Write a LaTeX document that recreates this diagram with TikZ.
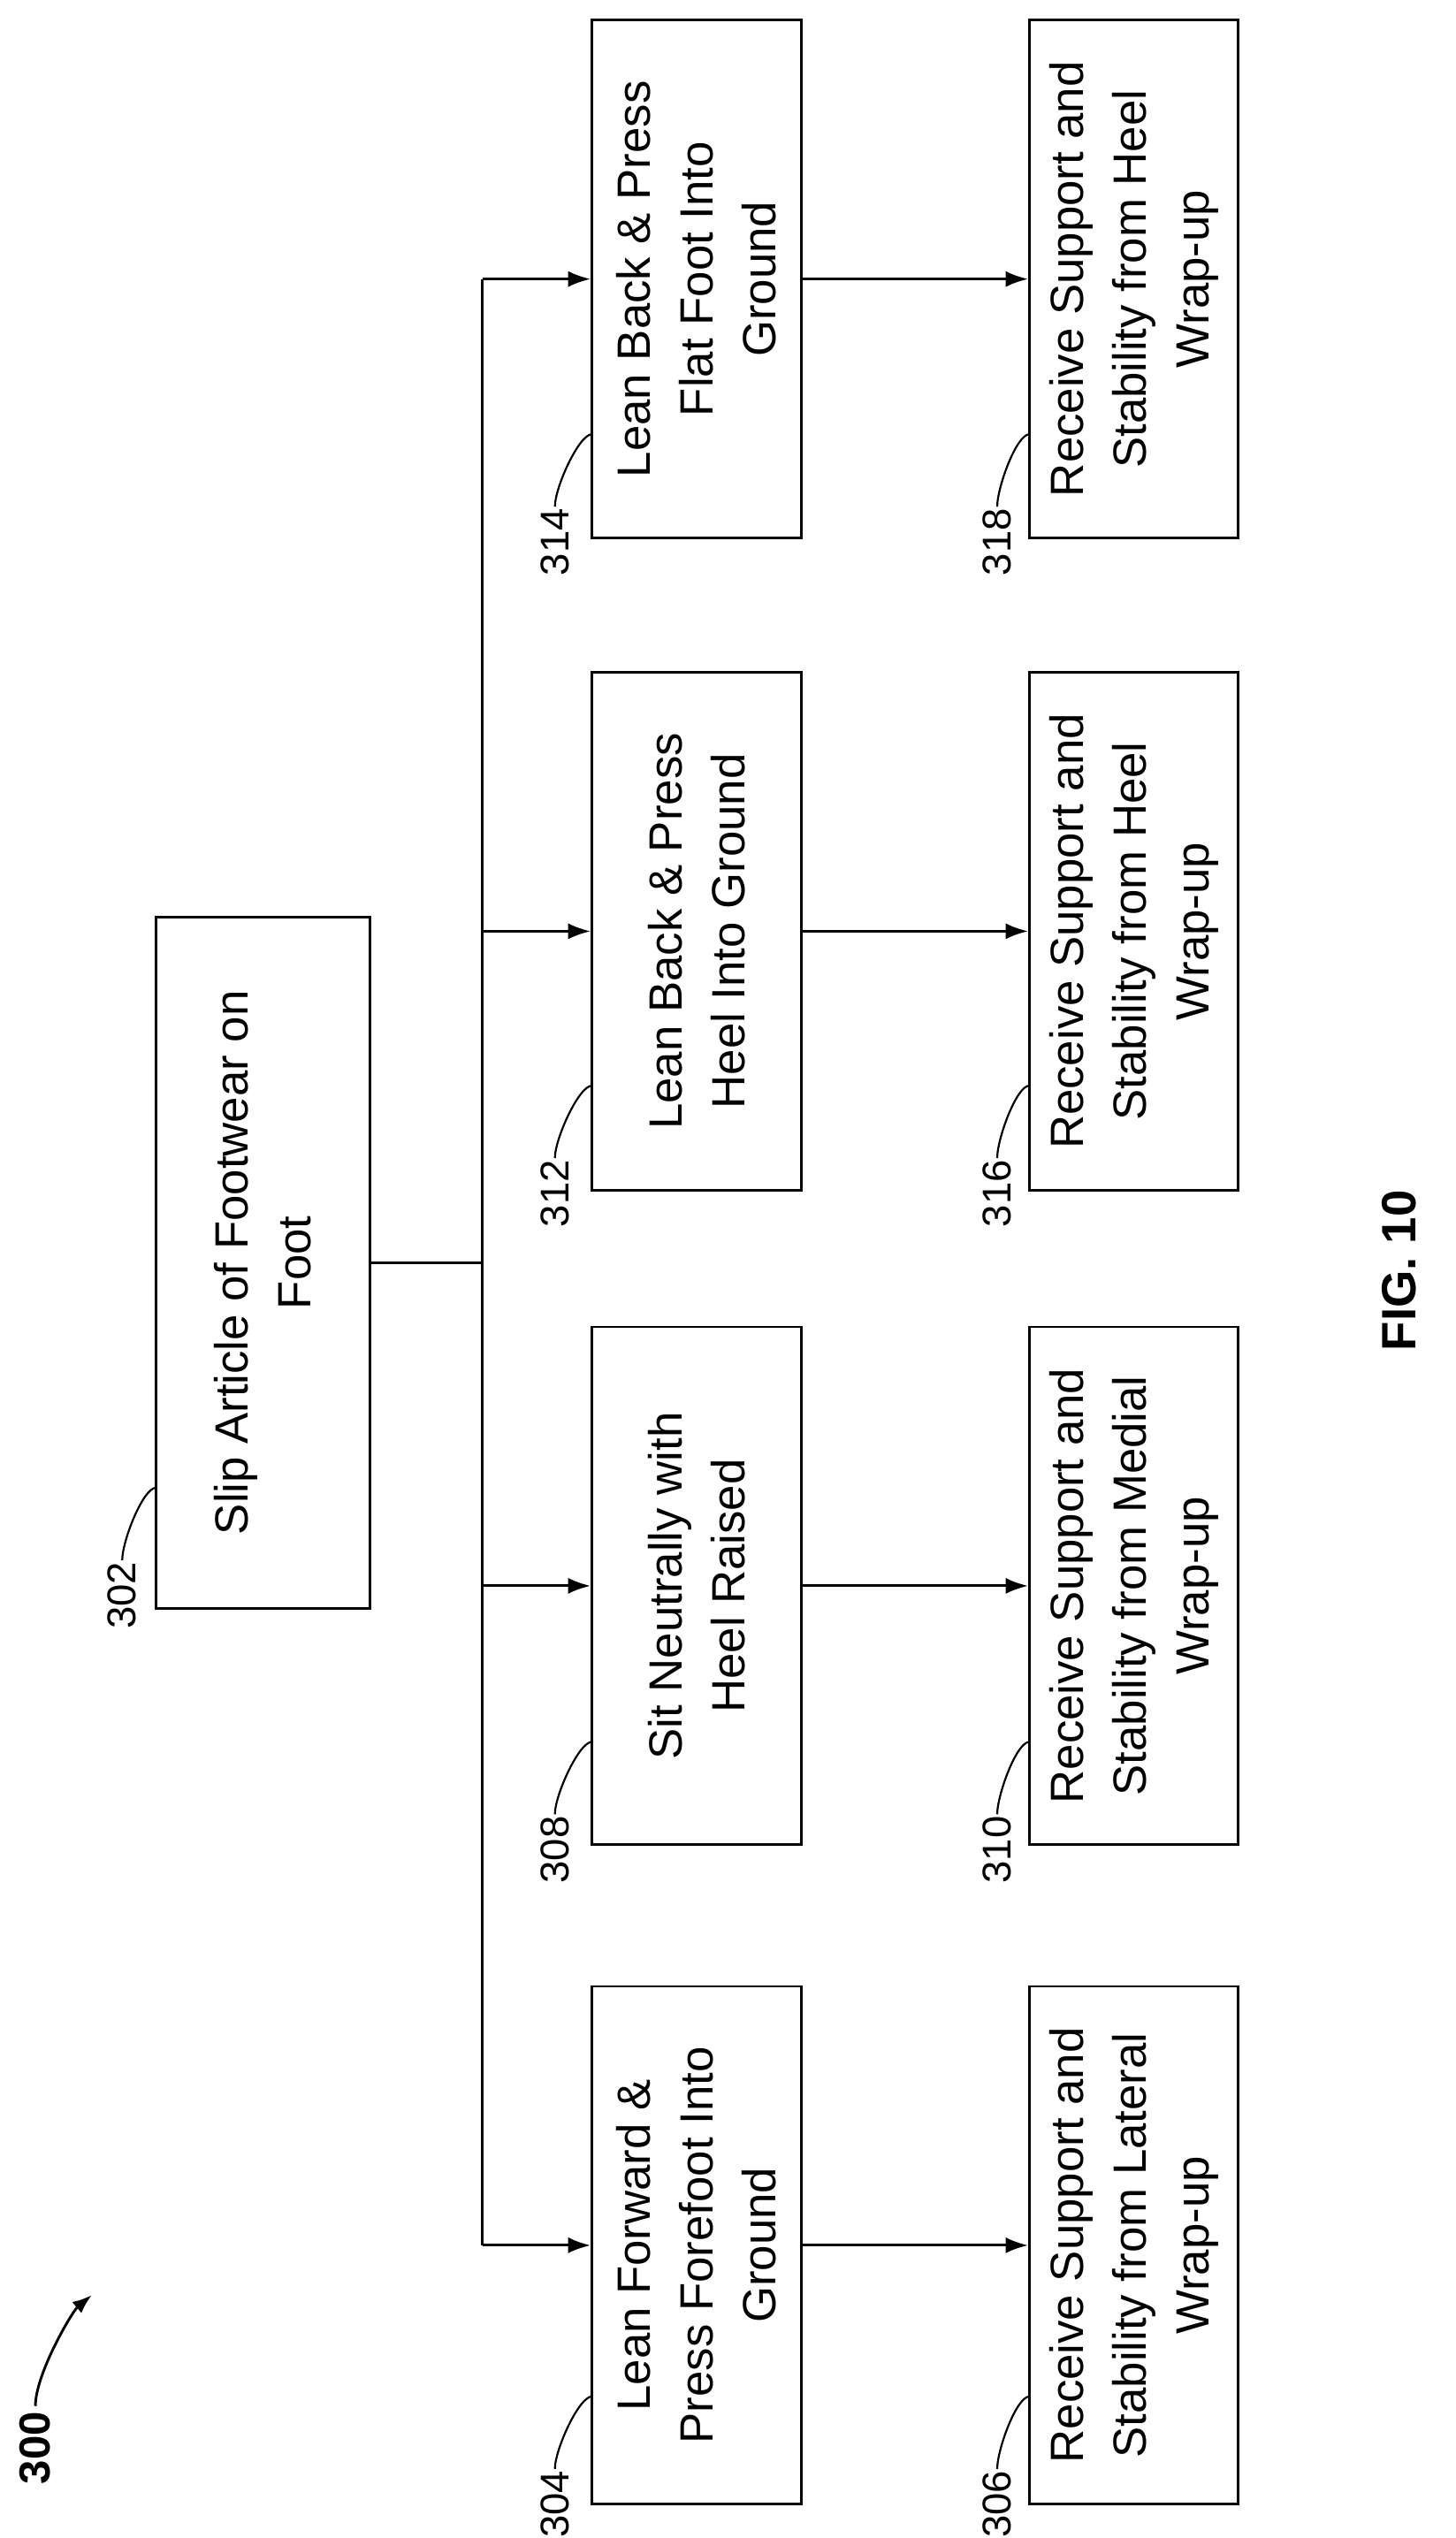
\documentclass[tikz,border=0pt]{standalone}
\usepackage{fontspec}
\setmainfont{Liberation Sans}
\usetikzlibrary{arrows.meta}
\begin{document}
\begin{tikzpicture}[x=1pt,y=-1pt,
  box/.style={draw,line width=1.6pt,rotate=90,align=center,font=\fontsize{29}{39}\selectfont,inner sep=0pt},
  mid/.style={box,minimum width=322pt,minimum height=130pt},
  lbl/.style={rotate=90,font=\fontsize{25}{30}\selectfont,inner sep=1pt},
  arr/.style={line width=1.6pt,-{Latex[length=14pt,width=10pt]}},
  ln/.style={line width=1.6pt},
  lead/.style={line width=1.2pt}]
\useasboundingbox (0,0) rectangle (905,1578);
\node[box,minimum width=430pt,minimum height=133pt] (b302) at (163.5,785) {Slip Article of Footwear on\\Foot};
\node[mid] (b314) at (433,173.5) {Lean Back \& Press\\Flat Foot Into\\Ground};
\node[mid] (b312) at (433,579) {Lean Back \& Press\\Heel Into Ground};
\node[mid] (b308) at (433,986) {Sit Neutrally with\\Heel Raised};
\node[mid] (b304) at (433,1396) {Lean Forward \&\\Press Forefoot Into\\Ground};
\node[mid] (b318) at (705,173.5) {Receive Support and\\Stability from Heel\\Wrap-up};
\node[mid] (b316) at (705,579) {Receive Support and\\Stability from Heel\\Wrap-up};
\node[mid] (b310) at (705,986) {Receive Support and\\Stability from Medial\\Wrap-up};
\node[mid] (b306) at (705,1396) {Receive Support and\\Stability from Lateral\\Wrap-up};
\coordinate (j) at (300,785);
\coordinate (jt) at (300,173.5);
\coordinate (jb) at (300,1396);
\draw[ln] (b302) -- (j);
\draw[ln] (jt) -- (jb);
\draw[arr] (jt) -- (b314);
\draw[arr] (j |- b312) -- (b312);
\draw[arr] (j |- b308) -- (b308);
\draw[arr] (jb) -- (b304);
\draw[arr] (b314) -- (b318);
\draw[arr] (b312) -- (b316);
\draw[arr] (b308) -- (b310);
\draw[arr] (b304) -- (b306);
% labels
\foreach \n/\x/\y/\bx in {302/76/970/97,314/345/315/368,312/345/720/368,308/345/1128/368,304/345/1535/368,318/620/315/640,316/620/720/640,310/620/1128/640,306/620/1535/640}{
  \node[lbl,anchor=east] (l\n) at (\x,\y) {\n};
  \coordinate (c\n) at (\bx,\y-45);
  \draw[lead] (l\n.east) .. controls +(0,-12) and +(-8,0) .. (c\n);
}
\node[rotate=90,font=\bfseries\fontsize{27}{30}\selectfont] (l300) at (22,1522) {300};
\coordinate (a300) at (57,1427);
\draw[line width=1.6pt,-{Latex[length=12pt,width=9pt]}] (l300.east) .. controls +(0,-20) and +(-12,10) .. (a300);
\node[rotate=90,font=\bfseries\fontsize{30}{34}\selectfont] (fig) at (870,790) {FIG. 10};
\end{tikzpicture}
\end{document}
